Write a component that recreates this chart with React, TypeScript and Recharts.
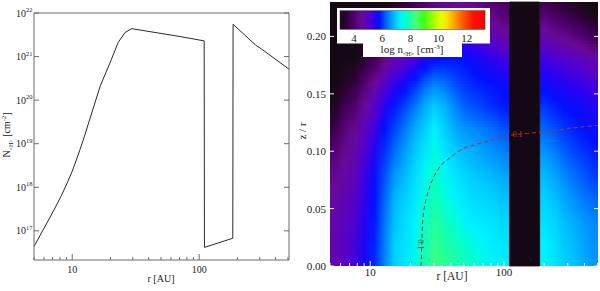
import { ComposedChart, Line, LineChart, ReferenceArea, ReferenceDot, XAxis, YAxis } from 'recharts';

const SERIF = '"Liberation Serif", "Times New Roman", serif';
const FRAME = '#6b6b6b';
const INK = '#222';

// left panel: column density against radius
const COLDENS_R = [5.0, 5.9, 7.1, 8.25, 9.3, 10.1, 11.5, 12.2, 16.6, 19.8, 23, 26, 29.4, 70.8, 109.5, 110, 184, 185, 277, 311, 510];
const COLDENS_N = [4.37e16, 1.05e17, 2.82e17, 6.61e17, 1.41e18, 2.51e18, 7.24e18, 1.2e19, 2.09e20, 7.08e20, 2.09e21, 3.55e21, 4.37e21, 2.88e21, 2.29e21, 4.17e16, 6.76e16, 5.5e21, 1.86e21, 1.48e21, 5.13e20];

const LEFT_X_MAJOR = [10, 100];
const LEFT_X_MINOR = [5, 6, 7, 8, 9, 20, 30, 40, 50, 60, 70, 80, 90, 200, 300, 400, 500];
const LEFT_Y_TICKS = [1e17, 1e18, 1e19, 1e20, 1e21, 1e22];

// right panel: log n sampled on a grid, columns in r, rows in z/r
const Z_ROWS = [0, 0.02, 0.04, 0.06, 0.08, 0.1, 0.12, 0.14, 0.16, 0.18, 0.2, 0.22, 0.23];
const R_EDGES_INNER = [5, 5.9, 7, 8.4, 9.9, 11.8, 14, 16.6, 19.8, 23.5, 27.8, 33, 39.3, 46.6, 55.4, 65.7, 78, 92.7, 110];
const R_EDGES_OUTER = [185, 219, 260, 308, 364, 432, 505];
const GAP_R = [110, 185];
const GAP_LOGN = 2.9;

const LOGN_INNER = [
  [4.75, 4.75, 4.7, 4.6, 4.4, 4.1, 3.65, 3.1, 2.9, 2.9, 2.9, 2.9, 2.9],
  [4.95, 4.95, 4.9, 4.8, 4.65, 4.45, 4.2, 3.75, 3.2, 2.9, 2.9, 2.9, 2.9],
  [5.2, 5.2, 5.1, 5.0, 4.85, 4.7, 4.45, 4.05, 3.5, 2.95, 2.9, 2.9, 2.9],
  [5.6, 5.6, 5.5, 5.4, 5.3, 5.1, 4.9, 4.55, 4.1, 3.4, 2.9, 2.9, 2.9],
  [5.95, 5.9, 5.85, 5.8, 5.7, 5.55, 5.3, 5.0, 4.55, 3.85, 3.2, 2.9, 2.9],
  [6.5, 6.45, 6.4, 6.3, 6.15, 6.0, 5.8, 5.5, 5.05, 4.4, 3.75, 3.1, 2.9],
  [7.0, 7.0, 6.9, 6.8, 6.6, 6.35, 6.1, 5.85, 5.4, 4.8, 4.2, 3.5, 3.2],
  [7.2, 7.15, 7.1, 7.0, 6.85, 6.65, 6.4, 6.1, 5.65, 5.0, 4.4, 3.7, 3.4],
  [7.45, 7.4, 7.3, 7.2, 7.1, 6.95, 6.75, 6.4, 5.95, 5.3, 4.6, 4.0, 3.7],
  [7.9, 7.85, 7.7, 7.55, 7.4, 7.2, 7.0, 6.75, 6.25, 5.6, 4.9, 4.2, 3.95],
  [8.3, 8.2, 8.05, 7.85, 7.7, 7.5, 7.3, 7.0, 6.45, 5.8, 5.1, 4.5, 4.3],
  [8.15, 8.0, 7.8, 7.55, 7.4, 7.2, 7.0, 6.8, 6.35, 5.85, 5.2, 4.6, 4.4],
  [8.0, 7.85, 7.6, 7.35, 7.2, 7.0, 6.75, 6.5, 6.15, 5.85, 5.35, 4.8, 4.5],
  [7.85, 7.65, 7.35, 7.2, 7.05, 6.85, 6.6, 6.25, 6.0, 5.8, 5.3, 4.8, 4.5],
  [7.65, 7.45, 7.25, 7.1, 6.95, 6.75, 6.5, 6.15, 5.9, 5.7, 5.2, 4.7, 4.4],
  [7.45, 7.35, 7.2, 7.05, 6.9, 6.65, 6.4, 6.05, 5.85, 5.55, 5.0, 4.5, 4.2],
  [7.3, 7.25, 7.15, 7.0, 6.8, 6.55, 6.3, 5.95, 5.8, 5.45, 4.9, 4.3, 4.0],
  [7.25, 7.2, 7.05, 6.9, 6.7, 6.45, 6.15, 5.85, 5.7, 5.3, 4.7, 4.1, 3.9],
];

const LOGN_OUTER = [
  [7.35, 7.3, 7.15, 7.0, 6.85, 6.6, 6.3, 6.0, 5.7, 5.3, 4.75, 4.1, 3.7],
  [7.2, 7.15, 7.05, 6.9, 6.7, 6.45, 6.15, 5.9, 5.6, 5.2, 4.6, 3.9, 3.5],
  [7.0, 6.95, 6.85, 6.7, 6.5, 6.25, 6.0, 5.8, 5.5, 5.1, 4.45, 3.7, 3.3],
  [6.9, 6.85, 6.75, 6.55, 6.35, 6.1, 5.9, 5.75, 5.4, 5.0, 4.3, 3.5, 3.2],
  [6.75, 6.7, 6.6, 6.4, 6.2, 6.0, 5.8, 5.65, 5.3, 4.9, 4.1, 3.25, 3.0],
  [6.6, 6.55, 6.5, 6.3, 6.05, 5.9, 5.7, 5.55, 5.15, 4.75, 3.85, 3.0, 2.9],
];

// dashed 0.1 contour
const CONTOUR_R = [24.0, 24.3, 24.7, 26.2, 28.5, 33.0, 39.2, 49.2, 62.1, 78.1, 101, 150, 208, 311, 505];
const CONTOUR_Z = [0, 0.02, 0.04, 0.058, 0.072, 0.086, 0.094, 0.102, 0.106, 0.109, 0.113, 0.1155, 0.117, 0.12, 0.1225];

const RIGHT_X_MAJOR = [10, 100];
const RIGHT_X_MINOR = [5, 6, 7, 8, 9, 20, 30, 40, 50, 60, 70, 80, 90, 200, 300, 400, 500];
const RIGHT_Y_TICKS = [0, 0.05, 0.1, 0.15, 0.2];
const CBAR_RANGE = [3, 13.3];
const CBAR_TICKS = [4, 6, 8, 10, 12];

const CMAP: [number, string][] = [
  [2.9, '#150815'],
  [3.0, '#180a18'],
  [3.5, '#320040'],
  [4.0, '#4f006a'],
  [4.5, '#680a96'],
  [5.0, '#5800c8'],
  [5.4, '#3000ee'],
  [5.8, '#0010ff'],
  [6.2, '#0058ff'],
  [6.6, '#0098ff'],
  [7.0, '#00d0ff'],
  [7.3, '#00f2ff'],
  [7.6, '#00ffd4'],
  [8.0, '#1cffa4'],
  [8.4, '#48ff74'],
  [9.0, '#40ff10'],
  [9.6, '#a0ff00'],
  [10.2, '#e8ff00'],
  [10.6, '#ffe000'],
  [11.2, '#ff9800'],
  [11.8, '#ff5000'],
  [12.5, '#ff1000'],
  [13.3, '#ff0000'],
];

const hexRgb = (h: string) => [1, 3, 5].map((i) => parseInt(h.slice(i, i + 2), 16));

function cmap(v: number) {
  if (v <= CMAP[0][0]) return CMAP[0][1];
  for (let i = 1; i < CMAP.length; i++) {
    if (v <= CMAP[i][0]) {
      const [v0, c0] = CMAP[i - 1];
      const [v1, c1] = CMAP[i];
      const t = (v - v0) / (v1 - v0);
      const a = hexRgb(c0);
      const b = hexRgb(c1);
      const m = a.map((x, k) => Math.round(x + (b[k] - x) * t));
      return `rgb(${m[0]},${m[1]},${m[2]})`;
    }
  }
  return CMAP[CMAP.length - 1][1];
}

// colour of one grid column at height z (shading between the sampled rows)
function shadeAt(vals: number[], z: number) {
  for (let k = 0; k < Z_ROWS.length - 1; k++) {
    if (z <= Z_ROWS[k + 1]) {
      const t = (z - Z_ROWS[k]) / (Z_ROWS[k + 1] - Z_ROWS[k]);
      return cmap(vals[k] + (vals[k + 1] - vals[k]) * t);
    }
  }
  return cmap(vals[vals.length - 1]);
}

const coldens = COLDENS_R.map((r, i) => ({ r, n: COLDENS_N[i] }));
const contour = CONTOUR_R.map((r, i) => ({ r, z: CONTOUR_Z[i] }));

const zTop = Z_ROWS[Z_ROWS.length - 1];
const STRIP = 0.0025;
const stripCount = Math.round(zTop / STRIP);

const bands = [
  { edges: R_EDGES_INNER, vals: LOGN_INNER },
  { edges: R_EDGES_OUTER, vals: LOGN_OUTER },
].map((b) => {
  const lo = Math.log10(b.edges[0]);
  const hi = Math.log10(b.edges[b.edges.length - 1]);
  const offsets = b.edges.slice(0, -1).map((e, i) => (Math.log10(e * b.edges[i + 1]) / 2 - lo) / (hi - lo));
  return { r1: b.edges[0], r2: b.edges[b.edges.length - 1], vals: b.vals, offsets };
});

const leftXTicks = [...LEFT_X_MINOR, ...LEFT_X_MAJOR].sort((a, b) => a - b);
const rightXTicks = [...RIGHT_X_MINOR, ...RIGHT_X_MAJOR].sort((a, b) => a - b);

function LeftBottomTick({ x, y, payload }: any) {
  const major = LEFT_X_MAJOR.includes(payload.value);
  return (
    <g>
      <line x1={x} y1={y} x2={x} y2={y - (major ? 6 : 3)} stroke={FRAME} />
      {major && (
        <text x={x} y={y + 12.5} textAnchor="middle" fontSize={10} fontFamily={SERIF} fill={INK}>
          {payload.value}
        </text>
      )}
    </g>
  );
}

function LeftTopTick({ x, y, payload }: any) {
  const major = LEFT_X_MAJOR.includes(payload.value);
  return <line x1={x} y1={y} x2={x} y2={y + (major ? 6 : 3)} stroke={FRAME} />;
}

function LeftYTick({ x, y, payload }: any) {
  const exp = Math.round(Math.log10(payload.value));
  return (
    <g>
      <line x1={x} y1={y} x2={x + 5} y2={y} stroke={FRAME} />
      <text x={x - 1.5} y={y + 3.5} textAnchor="end" fontSize={10} fontFamily={SERIF} fill={INK}>
        10<tspan dy={-4.5} fontSize={6.5}>{exp}</tspan>
      </text>
    </g>
  );
}

function LeftRightTick({ x, y }: any) {
  return <line x1={x} y1={y} x2={x - 5} y2={y} stroke={FRAME} />;
}

function RightBottomTick({ x, y, payload }: any) {
  const major = RIGHT_X_MAJOR.includes(payload.value);
  return (
    <g>
      <line x1={x} y1={y} x2={x} y2={y - (major ? 5 : 3)} stroke="#f4f4f4" />
      {major && (
        <text x={x} y={y + 10} textAnchor="middle" fontSize={11} fontFamily={SERIF} fill={INK}>
          {payload.value}
        </text>
      )}
    </g>
  );
}

function RightTopTick({ x, y, payload }: any) {
  const major = RIGHT_X_MAJOR.includes(payload.value);
  return <line x1={x} y1={y} x2={x} y2={y + (major ? 5 : 3)} stroke="#f4f4f4" />;
}

function RightYTick({ x, y, payload }: any) {
  return (
    <g>
      <line x1={x} y1={y} x2={x + 4} y2={y} stroke="#f4f4f4" />
      <text x={x - 4} y={y + 4} textAnchor="end" fontSize={11} fontFamily={SERIF} fill={INK}>
        {payload.value.toFixed(2)}
      </text>
    </g>
  );
}

function RightRightTick({ x, y }: any) {
  return <line x1={x} y1={y} x2={x - 4} y2={y} stroke="#f4f4f4" />;
}

function ColumnDensityPanel() {
  return (
    <LineChart width={300} height={291} data={coldens} margin={{ top: 12, right: 10, bottom: 0, left: 0 }}>
      <XAxis dataKey="r" type="number" scale="log" domain={[5, 510]} allowDataOverflow ticks={leftXTicks} interval={0}
        height={31} stroke={FRAME} tickSize={0} tickMargin={0} tick={(p: any) => <LeftBottomTick {...p} />} />
      <XAxis xAxisId="top" orientation="top" type="number" scale="log" domain={[5, 510]} allowDataOverflow ticks={leftXTicks}
        interval={0} height={1} stroke={FRAME} tickSize={0} tickMargin={0} tick={(p: any) => <LeftTopTick {...p} />} />
      <YAxis type="number" scale="log" domain={[2.14e16, 1e22]} allowDataOverflow ticks={LEFT_Y_TICKS} interval={0}
        width={34} stroke={FRAME} tickSize={0} tickMargin={0} tick={(p: any) => <LeftYTick {...p} />} />
      <YAxis yAxisId="right" orientation="right" type="number" scale="log" domain={[2.14e16, 1e22]} allowDataOverflow
        ticks={LEFT_Y_TICKS} interval={0} width={1} stroke={FRAME} tickSize={0} tickMargin={0}
        tick={(p: any) => <LeftRightTick {...p} />} />
      <Line dataKey="n" type="linear" stroke="#2a2a2a" strokeWidth={1} dot={false} isAnimationActive={false} />
    </LineChart>
  );
}

function DensityMapPanel() {
  const strips = Array.from({ length: stripCount }, (_, s) => s);
  return (
    <ComposedChart width={300} height={291} margin={{ top: 1, right: 1, bottom: 0, left: 0 }}>
      <defs>
        {bands.map((b, bi) =>
          strips.map((s) => {
            const zc = (s + 0.5) * STRIP;
            return (
              <linearGradient key={`${bi}-${s}`} id={`b${bi}s${s}`} x1="0" y1="0" x2="1" y2="0">
                {b.vals.map((col, i) => (
                  <stop key={i} offset={b.offsets[i]} stopColor={shadeAt(col, zc)} />
                ))}
              </linearGradient>
            );
          })
        )}
      </defs>
      <XAxis dataKey="r" type="number" scale="log" domain={[5, 505]} allowDataOverflow ticks={rightXTicks} interval={0}
        height={25} axisLine={false} tickSize={0} tickMargin={0} tick={(p: any) => <RightBottomTick {...p} />} />
      <XAxis xAxisId="top" orientation="top" type="number" scale="log" domain={[5, 505]} allowDataOverflow ticks={rightXTicks}
        interval={0} height={1} axisLine={false} tickSize={0} tickMargin={0} tick={(p: any) => <RightTopTick {...p} />} />
      <YAxis type="number" domain={[0, zTop]} allowDataOverflow ticks={RIGHT_Y_TICKS} interval={0} width={30}
        axisLine={false} tickSize={0} tickMargin={0} tick={(p: any) => <RightYTick {...p} />} />
      <YAxis yAxisId="right" orientation="right" type="number" domain={[0, zTop]} allowDataOverflow ticks={RIGHT_Y_TICKS}
        interval={0} width={1} axisLine={false} tickSize={0} tickMargin={0} tick={(p: any) => <RightRightTick {...p} />} />
      {bands.map((b, bi) =>
        strips.map((s) => (
          <ReferenceArea key={`${bi}-${s}`} x1={b.r1} x2={b.r2} y1={s === 0 ? 0 : (s - 0.6) * STRIP}
            y2={Math.min(zTop, (s + 1) * STRIP)} fill={`url(#b${bi}s${s})`} fillOpacity={1} stroke="none" />
        ))
      )}
      <ReferenceArea x1={GAP_R[0]} x2={GAP_R[1]} y1={0} y2={zTop} fill={cmap(GAP_LOGN)} fillOpacity={1}
        stroke={cmap(GAP_LOGN)} strokeWidth={0.8} />
      <Line data={contour} dataKey="z" type="monotone" stroke="#a83434" strokeWidth={1} strokeDasharray="4 3"
        dot={false} isAnimationActive={false} />
      <ReferenceDot x={116} y={0.1126} r={0} shape={(p: any) => (
        <text x={p.cx} y={p.cy} fontSize={8} fontFamily={SERIF} fill="#d02828">0.1</text>
      )} />
      <ReferenceDot x={23.9} y={0.019} r={0} shape={(p: any) => (
        <text x={p.cx} y={p.cy} fontSize={8} fontFamily={SERIF} fill="#505050" textAnchor="middle"
          transform={`rotate(90 ${p.cx} ${p.cy})`} dy={3}>0.1</text>
      )} />
    </ComposedChart>
  );
}

function Overlay() {
  const [c0, c1] = CBAR_RANGE;
  const barX = 340;
  const barW = 145;
  const toX = (v: number) => barX + ((v - c0) / (c1 - c0)) * barW;
  return (
    <svg width={600} height={291} style={{ position: 'absolute', left: 0, top: 0, pointerEvents: 'none' }}>
      <defs>
        <linearGradient id="cbar" x1="0" y1="0" x2="1" y2="0">
          {CMAP.filter(([v]) => v >= c0).map(([v, c]) => (
            <stop key={v} offset={(v - c0) / (c1 - c0)} stopColor={c} />
          ))}
        </linearGradient>
      </defs>
      <g fontFamily={SERIF} fill={INK}>
        <text transform="rotate(-90 10 135)" x={10} y={135} textAnchor="middle" fontSize={10}>
          N<tspan dy={2.5} fontSize={6}>&lt;H&gt;</tspan>
          <tspan dy={-2.5} fontSize={10}> [cm</tspan>
          <tspan dy={-4} fontSize={6.5}>-2</tspan>
          <tspan dy={4} fontSize={10}>]</tspan>
        </text>
        <text x={161} y={282} textAnchor="middle" fontSize={10}>r [AU]</text>
        <text transform="rotate(-90 306 131)" x={306} y={131} textAnchor="middle" fontSize={11}>z / r</text>
        <text x={452} y={280} textAnchor="middle" fontSize={11.5}>r [AU]</text>
      </g>
      <path d="M337 8 H490 V43.5 H462 V57 H363 V43.5 H337 Z" fill="#fff" />
      <rect x={barX} y={10.7} width={barW} height={18.6} fill="url(#cbar)" stroke="#333" strokeWidth={0.5} />
      <g fontFamily={SERIF} fill={INK} fontSize={11}>
        {CBAR_TICKS.map((t) => (
          <text key={t} x={toX(t)} y={42} textAnchor="middle">{t}</text>
        ))}
        <text x={412} y={53} textAnchor="middle" fontSize={11}>
          log n<tspan dy={3} fontSize={6}>&lt;H&gt;</tspan>
          <tspan dy={-3} fontSize={11}> [cm</tspan>
          <tspan dy={-4.5} fontSize={7}>-3</tspan>
          <tspan dy={4.5} fontSize={11}>]</tspan>
        </text>
      </g>
    </svg>
  );
}

export default function App() {
  return (
    <div style={{ position: 'absolute', left: 0, top: 0, width: 600, height: 291, background: '#fff', overflow: 'hidden' }}>
      <div style={{ position: 'absolute', left: 0, top: 0 }}>
        <ColumnDensityPanel />
      </div>
      <div style={{ position: 'absolute', left: 300, top: 0 }}>
        <DensityMapPanel />
      </div>
      <Overlay />
    </div>
  );
}
